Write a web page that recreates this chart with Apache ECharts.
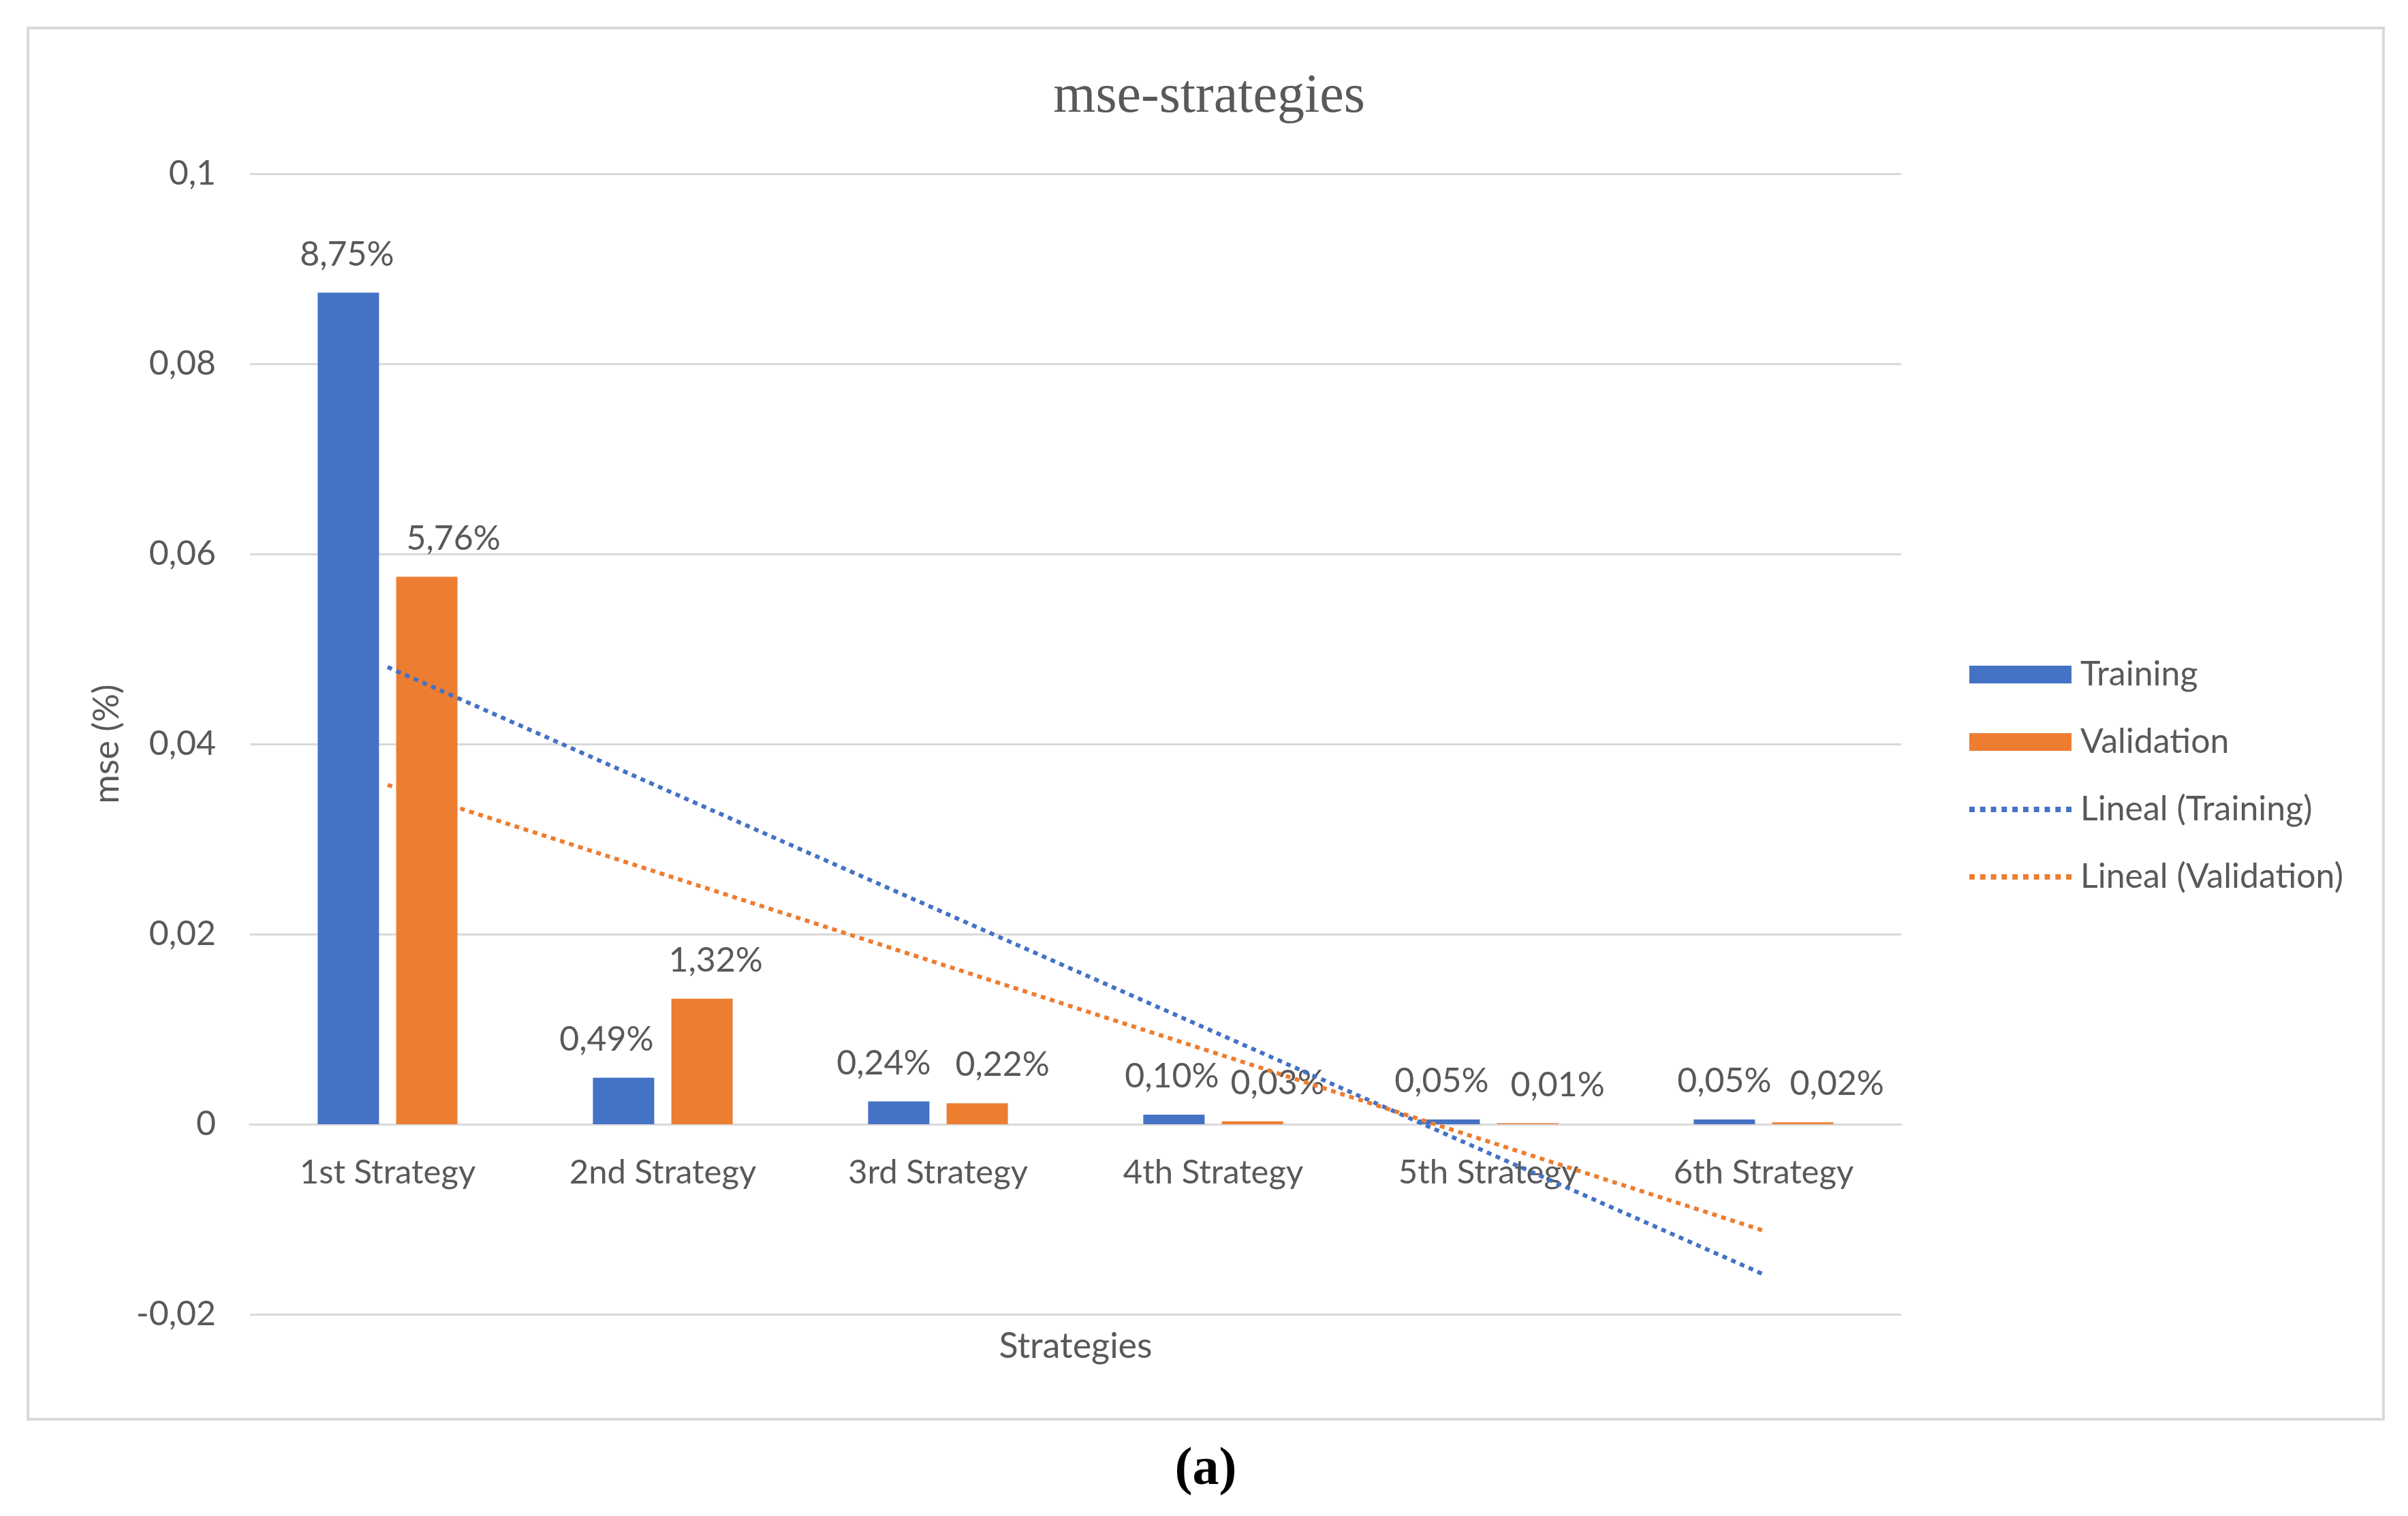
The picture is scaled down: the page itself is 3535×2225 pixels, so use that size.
<!DOCTYPE html>
<html>
<head>
<meta charset="utf-8">
<script src="https://cdn.jsdelivr.net/npm/echarts@6/dist/echarts.min.js"></script>
<style>
html,body{margin:0;padding:0;background:#fff;}
#chart{width:3535px;height:2225px;}
</style>
</head>
<body>
<div id="chart"></div>
<script>
const categories = ['1st Strategy', '2nd Strategy', '3rd Strategy', '4th Strategy', '5th Strategy', '6th Strategy'];
const training = [0.0875, 0.0049, 0.0024, 0.0010, 0.0005, 0.0005];
const validation = [0.0576, 0.0132, 0.0022, 0.0003, 0.0001, 0.0002];
// trendline end points (at 1st and 6th strategy)
const trendTraining = [0.0481, null, null, null, null, -0.0158];
const trendValidation = [0.0357, null, null, null, null, -0.0112];
const yTicks = { min: -0.02, max: 0.1, interval: 0.02 };

// layout: horizontal nudges of the data labels (px), as placed in the reference
const labelShiftTraining = [-2, -25, -22, -3, -11, 0];
const labelShiftValidation = [39, 20, 37, 37, 44, 50];

const BLUE = '#4472C4', ORANGE = '#ED7D31', GRAY = '#595959', GRID = '#d9d9d9';
const FONT = 'Lato';

const pct = v => (v * 100).toFixed(2).replace('.', ',') + '%';
const num = v => String(Math.round(v * 1000) / 1000).replace('.', ',');

// dotted legend icon: 10 small squares
let dotPath = 'path://';
for (let i = 0; i < 10; i++) dotPath += 'M' + (i * 2) + ' 0h1v1h-1z';

const labelCfg = () => ({
  show: true, position: 'top', distance: 31,
  fontFamily: FONT, fontSize: 50, color: GRAY,
  formatter: p => pct(p.value)
});
const barData = (vals, shifts) => vals.map((v, i) => ({ value: v, label: { offset: [shifts[i], 0] } }));

const GRID_TOP = 255, GRID_BOTTOM = 296, H = 2225;
const zeroOffset = -(H - GRID_TOP - GRID_BOTTOM) * (0 - yTicks.min) / (yTicks.max - yTicks.min);

const chart = echarts.init(document.getElementById('chart'), null, { renderer: 'canvas' });
chart.setOption({
  backgroundColor: '#fff',
  animation: false,
  title: {
    text: 'mse-strategies',
    left: 1770, top: 138, textAlign: 'center', textVerticalAlign: 'middle',
    textStyle: { fontFamily: 'Liberation Serif', fontSize: 80, fontWeight: 'normal', color: GRAY }
  },
  graphic: [
    { type: 'rect', shape: { x: 41, y: 41, width: 3458, height: 2042 },
      style: { fill: 'none', stroke: GRID, lineWidth: 4 }, silent: true },
    { type: 'text', x: 1770, y: 2158,
      style: { text: '(a)', fontFamily: 'Liberation Serif', fontWeight: 'bold', fontSize: 78,
               fill: '#000', align: 'center', verticalAlign: 'middle' } }
  ],
  legend: {
    orient: 'vertical', left: 2886, top: 957,
    itemWidth: 150, itemHeight: 26, itemGap: 43,
    textStyle: { fontFamily: FONT, fontSize: 50, color: GRAY, lineHeight: 56, padding: [0, 0, 0, 8] },
    data: [
      { name: 'Training', icon: 'rect' },
      { name: 'Validation', icon: 'rect' },
      { name: 'Lineal (Training)', icon: dotPath, itemStyle: { color: BLUE, borderWidth: 0 } },
      { name: 'Lineal (Validation)', icon: dotPath, itemStyle: { color: ORANGE, borderWidth: 0 } }
    ]
  },
  grid: { left: 367, right: 744, top: GRID_TOP, bottom: GRID_BOTTOM, containLabel: false, outerBoundsMode: 'none' },
  xAxis: {
    type: 'category', data: categories, position: 'bottom', offset: zeroOffset,
    axisLine: { onZero: false, lineStyle: { color: GRID, width: 3 } },
    axisTick: { show: false },
    axisLabel: { fontFamily: FONT, fontSize: 49, color: GRAY, margin: 47 },
    name: 'Strategies', nameLocation: 'middle', nameGap: 300,
    nameTextStyle: { fontFamily: FONT, fontSize: 52, color: GRAY }
  },
  yAxis: {
    type: 'value', min: yTicks.min, max: yTicks.max, interval: yTicks.interval,
    axisLine: { show: false }, axisTick: { show: false },
    splitLine: { lineStyle: { color: GRID, width: 3 } },
    axisLabel: { fontFamily: FONT, fontSize: 50, color: GRAY, margin: 50, formatter: num },
    name: 'mse (%)', nameLocation: 'middle', nameGap: 184, nameRotate: 90,
    nameTextStyle: { fontFamily: FONT, fontSize: 52, color: GRAY }
  },
  series: [
    {
      name: 'Training', type: 'bar', data: barData(training, labelShiftTraining),
      barWidth: 90, barGap: '28%',
      itemStyle: { color: BLUE },
      label: labelCfg()
    },
    {
      name: 'Validation', type: 'bar', data: barData(validation, labelShiftValidation),
      barWidth: 90, barGap: '28%',
      itemStyle: { color: ORANGE },
      label: labelCfg()
    },
    {
      name: 'Lineal (Training)', type: 'line', data: trendTraining, connectNulls: true,
      symbol: 'none', showSymbol: false, z: 5,
      itemStyle: { color: BLUE },
      lineStyle: { color: BLUE, width: 6, type: [7, 7] }
    },
    {
      name: 'Lineal (Validation)', type: 'line', data: trendValidation, connectNulls: true,
      symbol: 'none', showSymbol: false, z: 5,
      itemStyle: { color: ORANGE },
      lineStyle: { color: ORANGE, width: 6, type: [7, 7] }
    }
  ]
});
</script>
</body>
</html>
